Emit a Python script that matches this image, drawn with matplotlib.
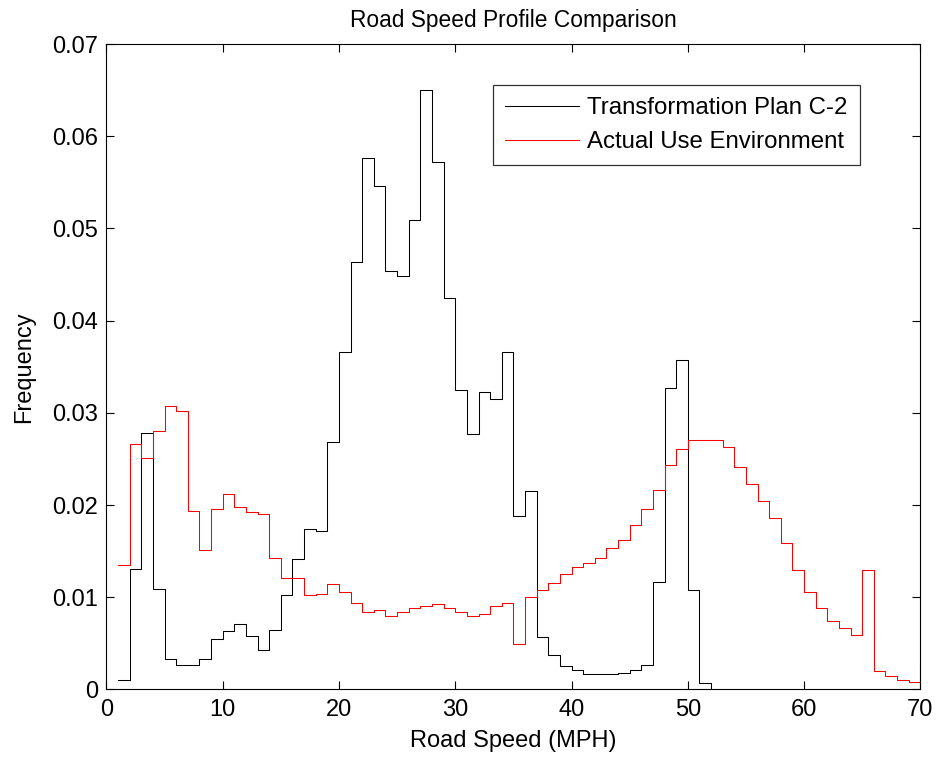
import matplotlib
matplotlib.use('Agg')
import matplotlib.pyplot as plt
import numpy as np

# bin start speeds (MPH), 1 MPH bins
plan_speed = np.arange(1, 53)
plan_freq = [0.00103, 0.0131, 0.0278, 0.0109, 0.0033, 0.0027, 0.0027, 0.0033, 0.0055, 0.0063,
             0.0071, 0.0058, 0.0043, 0.0065, 0.0102, 0.0141, 0.0174, 0.0172, 0.0268, 0.0366,
             0.0464, 0.0576, 0.0546, 0.0454, 0.0448, 0.0509, 0.0650, 0.0572, 0.0425, 0.0325,
             0.0277, 0.0323, 0.0315, 0.0366, 0.0188, 0.0215, 0.0057, 0.0037, 0.0025, 0.0021,
             0.0017, 0.0017, 0.0017, 0.0018, 0.0021, 0.0027, 0.0117, 0.0327, 0.0357, 0.0108,
             0.0007, 0.0]

actual_speed = np.arange(1, 71)
actual_freq = [0.0135, 0.0266, 0.0251, 0.0280, 0.0308, 0.0302, 0.0194, 0.0151, 0.0196, 0.0212,
               0.0198, 0.0192, 0.0190, 0.0143, 0.0121, 0.0121, 0.0102, 0.0104, 0.0114, 0.0106,
               0.0094, 0.0084, 0.0086, 0.0080, 0.0084, 0.0088, 0.0090, 0.0093, 0.0088, 0.0084,
               0.0080, 0.0082, 0.0090, 0.0094, 0.0049, 0.0100, 0.0108, 0.0116, 0.0125, 0.0133,
               0.0137, 0.0143, 0.0153, 0.0162, 0.0178, 0.0196, 0.0216, 0.0243, 0.0261, 0.0271,
               0.0271, 0.0271, 0.0263, 0.0241, 0.0223, 0.0204, 0.0186, 0.0159, 0.0130, 0.0106,
               0.0088, 0.0074, 0.0067, 0.0059, 0.0130, 0.0020, 0.0015, 0.0010, 0.0008, 0.0030]

xticks = [0, 10, 20, 30, 40, 50, 60, 70]
yticks = [0, 0.01, 0.02, 0.03, 0.04, 0.05, 0.06, 0.07]
ytick_labels = ['0', '0.01', '0.02', '0.03', '0.04', '0.05', '0.06', '0.07']

plt.rcParams['font.family'] = ['Liberation Sans', 'DejaVu Sans']
plt.rcParams['font.size'] = 17

fig = plt.figure(figsize=(9.42, 7.59), dpi=100)
ax = fig.add_axes([0.113, 0.0916, 0.864, 0.8503])

ax.step(plan_speed, plan_freq, where='post', color='black', lw=0.75, label='Transformation Plan C-2')
ax.step(actual_speed, actual_freq, where='post', color='red', lw=0.75, label='Actual Use Environment')

ax.set_xlim(0, 70)
ax.set_ylim(0, 0.07)
ax.set_xticks(xticks)
ax.set_yticks(yticks)
ax.set_yticklabels(ytick_labels)
ax.tick_params(direction='in', length=6, width=0.8, top=True, right=True)
ax.tick_params(axis='y', pad=6)
ax.tick_params(axis='x', pad=7)
for s in ax.spines.values():
    s.set_linewidth(0.8)

ax.set_title('Road Speed Profile Comparison', fontsize=16.4, pad=12)
ax.set_xlabel('Road Speed (MPH)', labelpad=6)
ax.set_ylabel('Frequency', labelpad=12)

leg = ax.legend(loc='upper right', bbox_to_anchor=(0.9257, 0.9362), borderaxespad=0,
                fancybox=False, edgecolor='black', handlelength=3.1, handletextpad=0.35,
                labelspacing=0.5, borderpad=0.5, fontsize=17.3)
leg.get_frame().set_linewidth(0.9)

fig.savefig('out.png', dpi=100)
